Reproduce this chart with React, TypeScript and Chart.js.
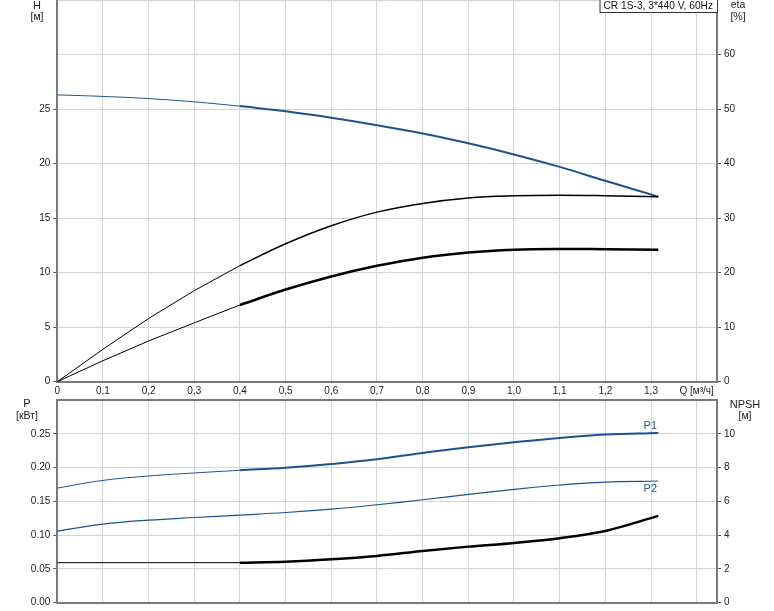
import React, { useEffect, useRef } from 'react';
import { Chart, registerables } from 'chart.js';

Chart.register(...registerables);

// ---- data ----
const Q = [0, 0.1, 0.2, 0.3, 0.4, 0.5, 0.6, 0.7, 0.8, 0.9, 1.0, 1.1, 1.2, 1.316];
const H = [26.3, 26.16, 25.96, 25.66, 25.27, 24.79, 24.2, 23.52, 22.76, 21.86, 20.84, 19.7, 18.42, 16.97];
const ETA = [0, 5.95, 11.6, 16.7, 21.3, 25.3, 28.6, 31.1, 32.7, 33.7, 34.1, 34.2, 34.1, 33.9];
const ETA2 = [0, 3.85, 7.47, 10.8, 14.07, 16.9, 19.3, 21.25, 22.75, 23.7, 24.2, 24.35, 24.3, 24.2];
const P1 = [0.1697, 0.181, 0.1875, 0.192, 0.196, 0.1999, 0.2053, 0.2122, 0.2217, 0.23, 0.2374, 0.2439, 0.2488, 0.2513];
const P2 = [0.106, 0.1163, 0.1222, 0.1261, 0.1297, 0.1335, 0.1386, 0.145, 0.1524, 0.1602, 0.1677, 0.1742, 0.1786, 0.1801];
const NPSH = [2.37, 2.37, 2.37, 2.37, 2.37, 2.43, 2.57, 2.77, 3.06, 3.32, 3.54, 3.82, 4.25, 5.14];

const X_TICKS = [0, 0.1, 0.2, 0.3, 0.4, 0.5, 0.6, 0.7, 0.8, 0.9, 1.0, 1.1, 1.2, 1.3, 1.4];
const X_MAX = 1.4445;
const H_TICKS = [0, 5, 10, 15, 20, 25, 30, 35];
const H_LABEL_MAX = 25;
const ETA_TICKS = [0, 10, 20, 30, 40, 50, 60, 70];
const ETA_LABEL_MAX = 60;
const P_TICKS = [0, 0.05, 0.1, 0.15, 0.2, 0.25, 0.3];
const P_LABEL_MAX = 0.25;
const NPSH_TICKS = [0, 2, 4, 6, 8, 10, 12];
const NPSH_LABEL_MAX = 10;
const THICK_FROM = 0.4;
const Q_LABEL = 'Q [м³/ч]';
const INFO = 'CR 1S-3, 3*440 V, 60Hz';

// ---- styles ----
const FONT_FAMILY = "'Liberation Sans', Arial, sans-serif";
const FONT = { family: FONT_FAMILY, size: 10 };
const TXT = '#222';
const BLUE = '#1b5290';
const GRID = '#d4d4d4';
const AXIS = '#7a7a7a';

const pts = (ys: number[]) => Q.map((q, i) => ({ x: q, y: ys[i] }));
const thin = (ys: number[]) => pts(ys).filter((p) => p.x <= THICK_FROM + 1e-9);
const thick = (ys: number[]) => pts(ys).filter((p) => p.x >= THICK_FROM - 1e-9);

const fixWidth = (w: number) => (s: any) => {
  s.width = w;
  s.paddingTop = 0;
  s.paddingBottom = 0;
};
const fixHeight = (h: number) => (s: any) => {
  s.height = h;
  s.paddingLeft = 0;
  s.paddingRight = 0;
};
const setTicks = (vals: number[]) => (s: any) => {
  s.ticks = vals.map((v) => ({ value: v }));
};
const fmtComma = (v: number) => (v === 0 ? '0' : v.toFixed(1).replace('.', ','));

const line = (data: any[], color: string, width: number, axis: string, tension = 0.4, monotone = false) => ({
  data,
  borderColor: color,
  borderWidth: width,
  pointRadius: 0,
  fill: false,
  tension,
  cubicInterpolationMode: monotone ? ('monotone' as const) : ('default' as const),
  borderCapStyle: 'butt' as const,
  yAxisID: axis,
});

const tickColorFn = (max: number) => (ctx: any) =>
  ctx.tick && ctx.tick.value > max + 1e-9 ? 'rgba(0,0,0,0)' : '#555';

const yAxis = (
  pos: 'left' | 'right',
  min: number,
  max: number,
  ticks: number[],
  labelMax: number,
  fmt: (v: number) => string,
  onArea: boolean,
  width: number
) => ({
  type: 'linear' as const,
  position: pos,
  min,
  max,
  afterBuildTicks: setTicks(ticks),
  afterFit: fixWidth(width),
  grid: {
    color: GRID,
    lineWidth: 1,
    drawOnChartArea: onArea,
    tickLength: 4,
    tickColor: tickColorFn(labelMax),
  },
  border: { color: AXIS, width: 2 },
  ticks: {
    font: FONT,
    color: TXT,
    padding: 3,
    autoSkip: false,
    callback: (v: any) => (v > labelMax + 1e-9 ? '' : fmt(Number(v))),
  },
});

function text(ctx: CanvasRenderingContext2D, s: string, x: number, y: number, align: CanvasTextAlign = 'center', color = TXT, size = 10.5) {
  ctx.save();
  ctx.font = `${size}px ${FONT_FAMILY}`;
  ctx.fillStyle = color;
  ctx.textAlign = align;
  ctx.textBaseline = 'middle';
  ctx.fillText(s, x, y);
  ctx.restore();
}

const topLabels = {
  id: 'topLabels',
  afterDraw(chart: any) {
    const ctx = chart.ctx as CanvasRenderingContext2D;
    const a = chart.chartArea;
    text(ctx, 'H', 37, 5.5, 'center', TXT, 11);
    text(ctx, '[м]', 37, 17);
    text(ctx, 'eta', 738, 5.5);
    text(ctx, '[%]', 738, 17);
    // info box
    ctx.save();
    ctx.font = `10.2px ${FONT_FAMILY}`;
    const w = ctx.measureText(INFO).width + 8;
    const x0 = a.right - w;
    ctx.fillStyle = '#fff';
    ctx.fillRect(x0, -1, w, 14);
    ctx.strokeStyle = '#333';
    ctx.lineWidth = 1;
    ctx.strokeRect(x0 + 0.5, -1, w, 13.5);
    ctx.fillStyle = '#111';
    ctx.textAlign = 'left';
    ctx.textBaseline = 'middle';
    ctx.fillText(INFO, x0 + 4, 6.5);
    ctx.restore();
  },
};

const bottomLabels = {
  id: 'bottomLabels',
  afterDraw(chart: any) {
    const ctx = chart.ctx as CanvasRenderingContext2D;
    const a = chart.chartArea;
    // top border
    ctx.save();
    ctx.strokeStyle = AXIS;
    ctx.lineWidth = 2;
    ctx.beginPath();
    ctx.moveTo(a.left, a.top);
    ctx.lineTo(a.right, a.top);
    ctx.stroke();
    ctx.restore();
    text(ctx, 'P', 27, 8, 'center', TXT, 11);
    text(ctx, '[кВт]', 27, 20.5);
    text(ctx, 'NPSH', 745, 9, 'center', TXT, 11);
    text(ctx, '[м]', 745, 20.5);
    const xs = chart.scales.x;
    const yp = chart.scales.y;
    const lastQ = Q[Q.length - 1];
    const px = xs.getPixelForValue(lastQ) - 8;
    text(ctx, 'P1', px, yp.getPixelForValue(P1[P1.length - 1]) - 7, 'center', BLUE, 11);
    text(ctx, 'P2', px, yp.getPixelForValue(P2[P2.length - 1]) + 8, 'center', BLUE, 11);
  },
};

export default function App() {
  const topRef = useRef<HTMLCanvasElement>(null);
  const botRef = useRef<HTMLCanvasElement>(null);

  useEffect(() => {
    document.body.style.margin = '0';
    const top = new Chart(topRef.current!, {
      type: 'line',
      data: {
        datasets: [
          line(thin(ETA), '#000', 1, 'y2', 0),
          line(thick(ETA), '#000', 1.5, 'y2'),
          line(thin(ETA2), '#000', 1, 'y2', 0),
          line(thick(ETA2), '#000', 2.5, 'y2'),
          line(thin(H), BLUE, 1, 'y'),
          line(thick(H), BLUE, 2, 'y'),
        ] as any,
      },
      options: {
        animation: false,
        responsive: false,
        events: [],
        layout: { padding: 0 },
        plugins: { legend: { display: false }, tooltip: { enabled: false }, title: { display: false } },
        scales: {
          x: {
            type: 'linear',
            min: 0,
            max: X_MAX,
            afterBuildTicks: setTicks(X_TICKS),
            afterFit: fixHeight(18.3),
            grid: { color: GRID, drawTicks: false },
            border: { color: AXIS, width: 2 },
            ticks: {
              font: FONT,
              color: TXT,
              padding: 4,
              maxRotation: 0,
              autoSkip: false,
              callback: (v: any) => (Math.abs(v - 1.4) < 1e-6 ? Q_LABEL : fmtComma(Number(v))),
            },
          },
          y: yAxis('left', 0, 35, H_TICKS, H_LABEL_MAX, (v) => String(v), true, 57.3),
          y2: yAxis('right', 0, 70, ETA_TICKS, ETA_LABEL_MAX, (v) => String(v), false, 57),
        } as any,
      },
      plugins: [topLabels],
    });

    const bot = new Chart(botRef.current!, {
      type: 'line',
      data: {
        datasets: [
          line(thin(NPSH), '#000', 1, 'y2', 0, true),
          line(thick(NPSH), '#000', 2.5, 'y2', 0, true),
          line(pts(P2), BLUE, 1.2, 'y'),
          line(thin(P1), BLUE, 1, 'y'),
          line(thick(P1), BLUE, 2, 'y'),
        ] as any,
      },
      options: {
        animation: false,
        responsive: false,
        events: [],
        layout: { padding: { top: 4, left: 0, right: 0, bottom: 0 } },
        plugins: { legend: { display: false }, tooltip: { enabled: false }, title: { display: false } },
        scales: {
          x: {
            type: 'linear',
            min: 0,
            max: X_MAX,
            afterBuildTicks: setTicks(X_TICKS),
            afterFit: fixHeight(8.3),
            grid: { color: GRID, drawTicks: false },
            border: { color: AXIS, width: 2 },
            ticks: { display: false },
          },
          y: yAxis('left', 0, 0.3, P_TICKS, P_LABEL_MAX, (v) => v.toFixed(2), true, 57.3),
          y2: yAxis('right', 0, 12, NPSH_TICKS, NPSH_LABEL_MAX, (v) => String(v), false, 57),
        } as any,
      },
      plugins: [bottomLabels],
    });

    return () => {
      top.destroy();
      bot.destroy();
    };
  }, []);

  return (
    <div style={{ position: 'fixed', left: 0, top: 0, width: 774, height: 611, background: '#fff' }}>
      <canvas ref={topRef} width={774} height={400} style={{ position: 'absolute', left: 0, top: 0, width: 774, height: 400 }} />
      <canvas ref={botRef} width={774} height={215} style={{ position: 'absolute', left: 0, top: 396, width: 774, height: 215 }} />
    </div>
  );
}
